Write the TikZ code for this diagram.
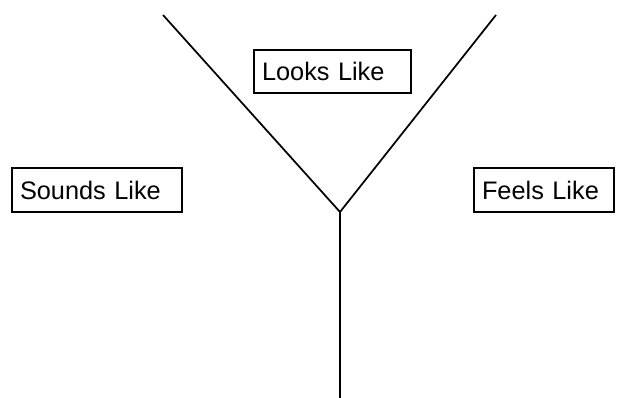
\documentclass[tikz,border=0pt]{standalone}
\usepackage{fontspec}
\setmainfont{Liberation Sans}
\begin{document}
\begin{tikzpicture}[x=0.75pt,y=-0.75pt,
  labelbox/.style={draw=black, line width=1.3pt, rectangle, inner xsep=6pt, inner ysep=0pt,
    align=left, font=\fontsize{19}{22}\selectfont, anchor=center},
  branch/.style={draw=black, line width=1.3pt}]
\useasboundingbox (0,0) rectangle (617,398);
\node[labelbox, minimum width=127.5pt, minimum height=33pt, text width=115.5pt] (sounds) at (97,190) {Sounds Like};
\node[labelbox, minimum width=117.75pt, minimum height=32.25pt, text width=105.75pt] (looks) at (332.5,71.5) {Looks Like};
\node[labelbox, minimum width=105pt, minimum height=33pt, text width=93pt] (feels) at (544,190) {Feels Like};
\coordinate (tl) at (163,15);
\coordinate (tr) at (496,15);
\coordinate (j) at (340,212);
\coordinate (b) at (340,398);
\draw[branch] (tl) -- (j) -- (tr);
\draw[branch] (j) -- (b);
\end{tikzpicture}
\end{document}
